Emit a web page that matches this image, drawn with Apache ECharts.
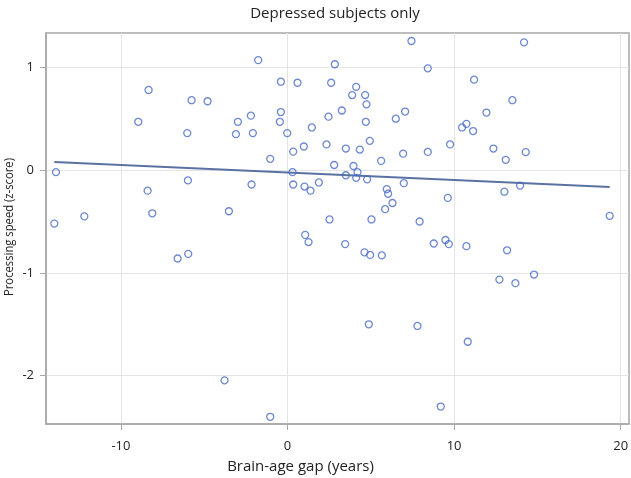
<!DOCTYPE html>
<html>
<head>
<meta charset="utf-8">
<script src="https://cdn.jsdelivr.net/npm/echarts@6/dist/echarts.min.js"></script>
<style>html,body{margin:0;padding:0;background:#fff}#c{width:631px;height:478px}</style>
</head>
<body>
<div id="c"></div>
<script>
const titleText = 'Depressed subjects only';
const xName = 'Brain-age gap (years)';
const yName = 'Processing speed (z-score)';
const xTicks = [-10, 0, 10, 20];
const yTicks = [-2, -1, 0, 1];

const gapX = [
  -8.34, -5.76, -4.8, -8.96, -6.02, -2.98, -3.1, -13.9, -5.98, -8.4, -8.12, -3.52, -12.2, -14.0,
  -1.76, 2.84, 7.44, 8.42, -0.4, 0.6, 2.62, 4.12, 3.88, 4.66, 4.74, 3.26, 2.46, -0.4, -0.46, -2.2,
  -2.08, -0.02, 1.46, 4.7, 6.5, 7.06, 4.94, 2.34, 0.98, 0.34, 3.5, 4.34, 6.94, 5.62, 8.42, -1.04,
  2.8, 3.96, 0.3, 4.2, 3.5, 4.12, 4.78, -2.16, 0.34, 1.02, 1.38, 1.88, 5.96, 6.04, 6.98, 6.3, 5.86,
  2.52, 5.04, 7.93,
  14.2, 11.2, 13.5, 11.94, 10.74, 10.48, 11.14, 9.76, 12.36, 14.3, 13.1, 13.96, 13.02, 9.62, 19.34,
  -6.6, -5.96, -3.78,
  1.06, 1.26, 3.46, 4.62, 4.96, 5.66, 4.88, 7.8, -1.04,
  8.78, 9.48, 9.68, 10.74, 13.18, 12.72, 13.68, 14.8, 10.82, 9.2
];
const speedY = [
  0.78, 0.68, 0.67, 0.47, 0.36, 0.47, 0.35, -0.02, -0.10, -0.20, -0.42, -0.40, -0.45, -0.52,
  1.07, 1.03, 1.256, 0.99, 0.86, 0.85, 0.85, 0.81, 0.73, 0.73, 0.64, 0.58, 0.52, 0.565, 0.47, 0.53,
  0.36, 0.36, 0.415, 0.47, 0.50, 0.57, 0.285, 0.25, 0.23, 0.18, 0.21, 0.20, 0.16, 0.09, 0.177, 0.11,
  0.05, 0.04, -0.02, -0.02, -0.05, -0.075, -0.09, -0.14, -0.14, -0.16, -0.20, -0.12, -0.185, -0.23, -0.127, -0.32, -0.38,
  -0.48, -0.48, -0.50,
  1.243, 0.88, 0.68, 0.56, 0.45, 0.415, 0.38, 0.25, 0.21, 0.175, 0.10, -0.15, -0.21, -0.27, -0.445,
  -0.86, -0.815, -2.045,
  -0.63, -0.70, -0.72, -0.80, -0.825, -0.83, -1.50, -1.516, -2.40,
  -0.714, -0.68, -0.72, -0.74, -0.78, -1.065, -1.10, -1.016, -1.67, -2.30
];
const fitX = [-14.0, 19.34];
const fitY = [0.08, -0.165];

const pts = gapX.map((x, i) => [x, speedY[i]]);
const fit = fitX.map((x, i) => [x, fitY[i]]);

const txt = '#222';
const font = '"Open Sans", "Noto Sans", sans-serif';

// the vertical axis title is condensed in the reference (~138 px long at ~13 px glyph height)
const yNameFont = '13px ' + font;
function measure(text, f) {
  const ctx = document.createElement('canvas').getContext('2d');
  ctx.font = f;
  return ctx.measureText(text).width;
}
const yNameScale = Math.min(1, 138 / measure(yName, yNameFont));

const chart = echarts.init(document.getElementById('c'), null, {renderer: 'canvas'});
chart.setOption({
  animation: false,
  backgroundColor: '#fff',
  title: {
    text: titleText, left: 330, textAlign: 'center', top: 1,
    textStyle: {fontFamily: font, fontSize: 15, fontWeight: 'normal', color: txt}
  },
  grid: {left: 46, right: 2, top: 33, bottom: 54, show: true, borderColor: '#a8a8a8', borderWidth: 1.5,
         containLabel: false, outerBoundsMode: 'none'},
  graphic: [{
    type: 'text', x: 9, y: 227, rotation: Math.PI / 2, scaleX: yNameScale,
    style: {text: yName, font: yNameFont, fill: txt, align: 'center', verticalAlign: 'middle'}
  }],
  xAxis: {
    type: 'value', min: -14.5, max: 20.5,
    name: xName, nameLocation: 'middle', nameGap: 35,
    nameTextStyle: {fontFamily: font, fontSize: 15, color: txt, padding: [0, 74, 0, 0]},
    axisLine: {show: true, onZero: false, lineStyle: {color: '#a8a8a8', width: 1.5}},
    axisTick: {show: true, customValues: xTicks, length: 6, lineStyle: {color: '#a8a8a8'}},
    axisLabel: {customValues: xTicks, margin: 16, fontFamily: font, fontSize: 13, color: txt, formatter: v => String(v)},
    splitLine: {show: true, lineStyle: {color: '#e4e4e4', width: 1}}
  },
  yAxis: {
    type: 'value', min: -2.47, max: 1.334,
    axisLine: {show: true, onZero: false, lineStyle: {color: '#a8a8a8', width: 1.5}},
    axisTick: {show: true, customValues: yTicks, length: 6, lineStyle: {color: '#a8a8a8'}},
    axisLabel: {customValues: yTicks, margin: 12, fontFamily: font, fontSize: 13, color: txt, formatter: v => String(v)},
    splitLine: {show: true, lineStyle: {color: '#e4e4e4', width: 1}}
  },
  series: [
    {
      type: 'scatter', data: pts, symbol: 'circle', symbolSize: 7,
      itemStyle: {color: 'rgba(0,0,0,0)', borderColor: '#4a6cc6', borderWidth: 1.3},
      z: 3
    },
    {
      type: 'line', data: fit, symbol: 'none',
      lineStyle: {color: '#5a72a2', width: 2},
      z: 2
    }
  ]
});
</script>
</body>
</html>
